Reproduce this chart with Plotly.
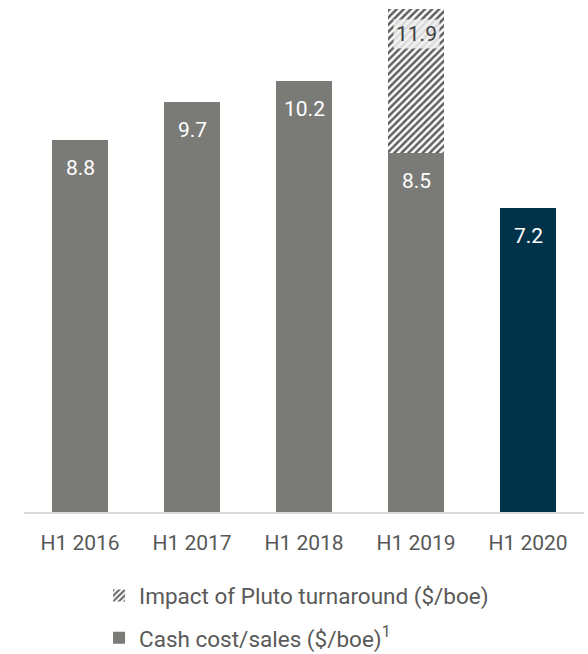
import plotly.graph_objects as go

# Half-year periods and unit costs
periods = ["H1 2016", "H1 2017", "H1 2018", "H1 2019", "H1 2020"]
cash_cost = [8.8, 9.7, 10.2, 8.5, 7.2]
# Total unit cost including the Pluto turnaround impact (only H1 2019)
with_pluto = [None, None, None, 11.9, None]

GREY = "#7a7b77"
NAVY = "#00334a"
TEXT = "#595959"
FONT = "Roboto"

bar_colors = [NAVY if p == "H1 2020" else GREY for p in periods]

# Height of the hatched segment stacked above the cash cost
pluto_extra = [None if t is None else round(t - c, 2) for t, c in zip(with_pluto, cash_cost)]

fig = go.Figure()

fig.add_trace(go.Bar(
    x=periods, y=cash_cost,
    marker=dict(color=bar_colors, line=dict(width=0)),
    name="Cash cost/sales ($/boe)<sup>1</sup>",
    legendgroup="cash", legendrank=2,
    hoverinfo="skip",
))

fig.add_trace(go.Bar(
    x=periods, y=pluto_extra,
    marker=dict(
        color="white", line=dict(width=0),
        pattern=dict(shape="/", fgcolor="#5f5f5f", bgcolor="white",
                     size=5, solidity=0.5, fillmode="replace"),
    ),
    name="Impact of Pluto turnaround ($/boe)",
    legendgroup="pluto", legendrank=1,
    hoverinfo="skip",
))

# Value labels near the top of each bar
for p, v in zip(periods, cash_cost):
    fig.add_annotation(x=p, y=v, text=f"{v:g}", showarrow=False,
                       yshift=-28, font=dict(family=FONT, size=21, color="white"))
for p, t in zip(periods, with_pluto):
    if t is not None:
        fig.add_annotation(x=p, y=t, text=f"{t:g}", showarrow=False,
                           yshift=-25, bgcolor="rgba(240,240,240,0.85)",
                           borderpad=2,
                           font=dict(family=FONT, size=21, color="#404040"))

fig.update_layout(
    width=588, height=654,
    margin=dict(l=24, r=4, t=0, b=142, autoexpand=False),
    barmode="stack",
    bargap=0.5,
    plot_bgcolor="white", paper_bgcolor="white",
    font=dict(family=FONT, color=TEXT),
    showlegend=True,
    legend=dict(
        orientation="v", x=0.134, xanchor="left", y=-0.122, yanchor="top",
        font=dict(family=FONT, size=22.5, color=TEXT),
        tracegroupgap=10, itemclick=False, itemdoubleclick=False,
    ),
    xaxis=dict(
        showline=True, linecolor="#d9d9d9", linewidth=2,
        ticks="", ticklabelstandoff=11,
        tickfont=dict(family=FONT, size=21, color=TEXT),
        showgrid=False,
    ),
    yaxis=dict(range=[0, 12.11], visible=False, showgrid=False),
)

fig.write_html("out.html")
